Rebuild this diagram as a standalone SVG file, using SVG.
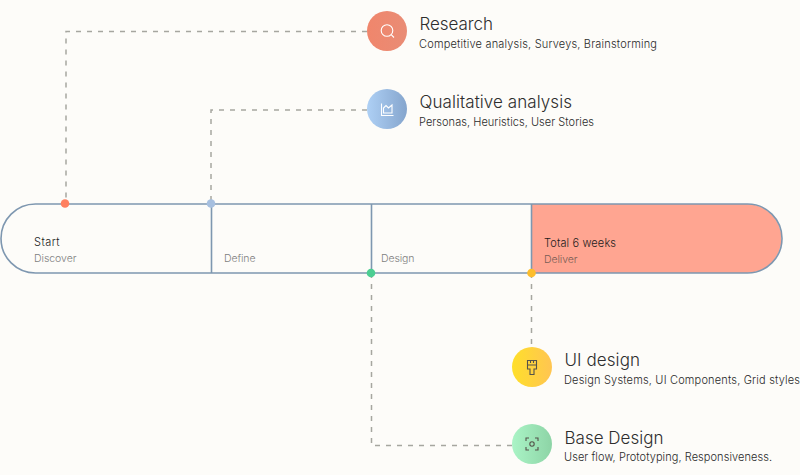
<svg xmlns="http://www.w3.org/2000/svg" width="800" height="475" viewBox="0 0 800 475">
<style>
text{font-family:"Inter","Liberation Sans",sans-serif;font-weight:300}
.t{font-size:17px;fill:#2e2e2e}
.s{font-size:11px;fill:#2a2a2a}
.h{font-size:11px;fill:#1c1c1c}
.g{font-size:10.5px;fill:#808080}
.c{fill:none;stroke:#a6a6a0;stroke-width:1.5;stroke-dasharray:5 6}
.b{fill:none;stroke:#7e97b0;stroke-width:1.6}
.iw{fill:none;stroke:#fff;stroke-width:1.1}
.id{fill:none;stroke:#55524a;stroke-width:1.1}
</style>
<defs>
<linearGradient id="gr"><stop offset="0" stop-color="#f0866c"/><stop offset="1" stop-color="#e98c75"/></linearGradient>
<linearGradient id="gb"><stop offset="0" stop-color="#aed0f5"/><stop offset="1" stop-color="#85a5cd"/></linearGradient>
<linearGradient id="gy"><stop offset="0" stop-color="#ffdf2a"/><stop offset="1" stop-color="#ffc552"/></linearGradient>
<linearGradient id="gg"><stop offset="0" stop-color="#aaf4c6"/><stop offset="1" stop-color="#8dd4a6"/></linearGradient>
</defs>
<rect width="800" height="475" fill="#fdfcf9"/>
<g id="connectors">
<path class="c" d="M367 31.500H66V203"/>
<path class="c" d="M367 110H211V203"/>
<path class="c" d="M531.500 273V347"/>
<path class="c" d="M371.500 273V445.500H512"/>
</g>
<g id="bar">
<path d="M531.500 204H747A34.500 34.500 0 0 1 747 273H531.500Z" fill="#ffa591"/>
<rect x="1" y="204" width="781" height="69" rx="34.500" class="b"/>
<path class="b" d="M211.500 204V273M371.500 204V273M531.500 204V273"/>
</g>
<g id="stage-discover"><text class="h" x="34" y="246" textLength="25.500">Start</text><text class="g" x="34" y="262" textLength="42.500">Discover</text><circle cx="65" cy="203.500" r="4.300" fill="#ff8060"/></g>
<g id="stage-define"><text class="g" x="224" y="262" textLength="31.500">Define</text><circle cx="211" cy="203.500" r="4.300" fill="#a6bfdf"/></g>
<g id="stage-design"><text class="g" x="381" y="262" textLength="33.500">Design</text><circle cx="371" cy="273" r="4.300" fill="#4cce92"/></g>
<g id="stage-deliver"><text class="h" x="544" y="247" textLength="72">Total 6 weeks</text><text class="g" x="544" y="263" textLength="33.500" style="fill:#7a5d55">Deliver</text><circle cx="531.500" cy="273" r="4.300" fill="#fdbd2b"/></g>
<g id="research"><circle cx="387" cy="31" r="20" fill="url(#gr)"/><circle class="iw" cx="387" cy="30.500" r="5.800"/><path class="iw" d="M391.200 34.700L394 37.500"/><text class="t" x="419.500" y="29.500" textLength="73.500">Research</text><text class="s" x="419" y="48" textLength="238">Competitive analysis, Surveys, Brainstorming</text></g>
<g id="qualitative"><circle cx="387" cy="109" r="20" fill="url(#gb)"/><path class="iw" d="M381.500 103.500V115.500H393.500M383.500 113V108L386 105.500L388.500 108L392 105V113Z"/><text class="t" x="419.500" y="107.500" textLength="152.500">Qualitative analysis</text><text class="s" x="419" y="126" textLength="175">Personas, Heuristics, User Stories</text></g>
<g id="ui-design"><circle cx="532" cy="367" r="20" fill="url(#gy)"/><path class="id" d="M527.500 360.500H536.500V369H534V374.500H530V369H527.500ZM527.500 365H536.500M530.500 360.500V363M533.500 360.500V363"/><text class="t" x="564.500" y="365.500" textLength="75.500">UI design</text><text class="s" x="564" y="384" textLength="236">Design Systems, UI Components, Grid styles</text></g>
<g id="base-design"><circle cx="532" cy="444" r="20" fill="url(#gg)"/><path class="id" d="M526 441V438H529M535 438H538V441M538 447V450H535M529 450H526V447"/><circle class="id" cx="532" cy="444" r="2.200"/><text class="t" x="564.500" y="443.500" textLength="99">Base Design</text><text class="s" x="564" y="461" textLength="208">User flow, Prototyping, Responsiveness.</text></g>
</svg>
